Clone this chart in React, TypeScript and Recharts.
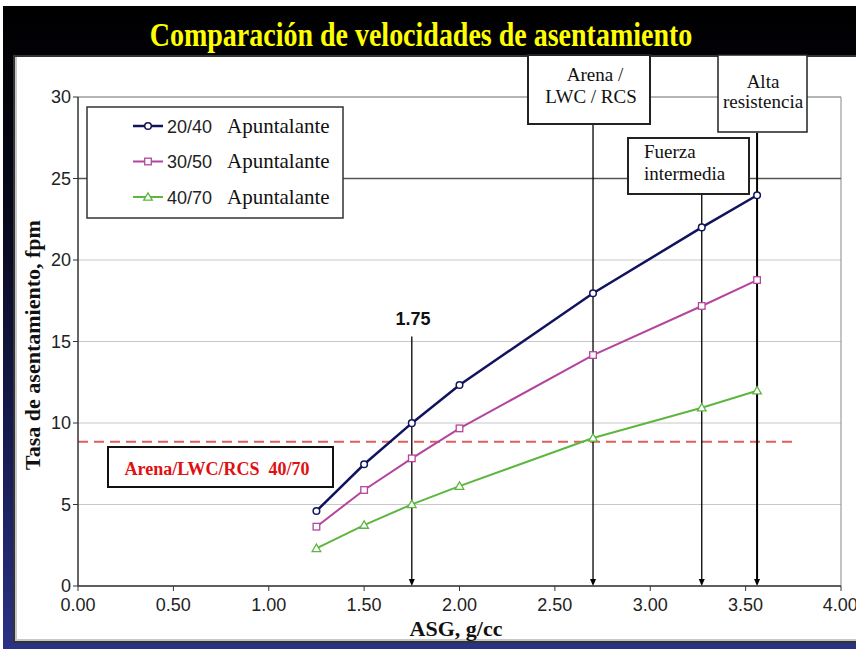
import { CartesianGrid, Line, LineChart, ReferenceLine, XAxis, YAxis } from "recharts";

// ASG (g/cc) of the proppant samples
const ASG = [1.25, 1.5, 1.75, 2.0, 2.7, 3.27, 3.56];

// settling rate, fpm
const RATE_2040 = [4.6, 7.47, 9.99, 12.33, 17.96, 22.0, 23.97];
const RATE_3050 = [3.64, 5.89, 7.83, 9.67, 14.17, 17.18, 18.77];
const RATE_4070 = [2.31, 3.74, 5.01, 6.13, 9.08, 10.94, 11.98];

const X_TICKS = [0, 0.5, 1, 1.5, 2, 2.5, 3, 3.5, 4];
const Y_TICKS = [0, 5, 10, 15, 20, 25, 30];

// dashed reference: sand / LWC / RCS 40/70
const SAND_4070_RATE = 8.85;
const SAND_4070_END = 3.77;

// vertical arrows: ASG value and the rate where the line starts
const ARROW_X = [1.75, 2.7, 3.27, 3.56];
const ARROW_FROM = [15.3, 28.3, 24.0, 27.8];
const ARROW_WIDTH = [1.3, 1.3, 1.3, 2];

const SERIES = [
  { key: "s2040", name: "20/40", color: "#12135f", marker: "circle", width: 2.5 },
  { key: "s3050", name: "30/50", color: "#b3459d", marker: "square", width: 2 },
  { key: "s4070", name: "40/70", color: "#5db640", marker: "triangle", width: 2 },
];

const data = ASG.map((asg, i) => ({
  asg,
  s2040: RATE_2040[i],
  s3050: RATE_3050[i],
  s4070: RATE_4070[i],
}));

const SERIF = "'Liberation Serif', 'Times New Roman', serif";
const SANS = "'Liberation Sans', Arial, sans-serif";

function Marker({ kind, cx, cy, color }: { kind: string; cx: number; cy: number; color: string }) {
  if (kind === "square") {
    return <rect x={cx - 3.3} y={cy - 3.3} width={6.6} height={6.6} fill="#fff" stroke={color} strokeWidth={1.3} />;
  }
  if (kind === "triangle") {
    return (
      <path
        d={`M${cx},${cy - 4.2} L${cx + 4.3},${cy + 3.2} L${cx - 4.3},${cy + 3.2} Z`}
        fill="#fff"
        stroke={color}
        strokeWidth={1.3}
      />
    );
  }
  return <circle cx={cx} cy={cy} r={3.3} fill="#fff" stroke={color} strokeWidth={1.5} />;
}

function ArrowShape(p: any) {
  const { x1, y1, x2, y2, stroke, strokeWidth } = p;
  return (
    <g>
      <line x1={x1} y1={y1} x2={x2} y2={y2 - 5} stroke={stroke} strokeWidth={strokeWidth} />
      <path d={`M${x2 - 3},${y2 - 7} L${x2 + 3},${y2 - 7} L${x2},${y2} Z`} fill={stroke} />
    </g>
  );
}

export default function App() {
  return (
    <div style={{ position: "relative", width: 856, height: 649, overflow: "hidden", background: "#fff" }}>
      <style>{`body{margin:0}`}</style>
      <div
        style={{
          position: "absolute",
          left: 3,
          top: 6,
          width: 860,
          height: 650,
          background: "linear-gradient(180deg, #000 0%, #07081a 30%, #181d55 70%, #2b3388 100%)",
        }}
      />
      <div
        style={{
          position: "absolute",
          left: 13,
          top: 55,
          width: 850,
          height: 584,
          background: "#fff",
          border: "2px solid #333",
          boxShadow: "inset 2px -2px 0 #c8c8c8",
        }}
      />

      <div style={{ position: "absolute", left: 0, top: 0 }}>
        <LineChart width={856} height={649} data={data} margin={{ top: 97, right: 15, bottom: 0, left: 0 }}>
          <CartesianGrid horizontal vertical={false} stroke="#c8c8c8" strokeWidth={1} />
          <XAxis
            type="number"
            dataKey="asg"
            domain={[0, 4]}
            ticks={X_TICKS}
            tickFormatter={(v: number) => v.toFixed(2)}
            height={63}
            tickSize={5}
            tickMargin={7}
            tick={{ fontSize: 18, fill: "#222", fontFamily: SANS }}
            axisLine={{ stroke: "#333", strokeWidth: 1.5 }}
            tickLine={{ stroke: "#333" }}
          />
          <YAxis
            type="number"
            domain={[0, 30]}
            ticks={Y_TICKS}
            width={78}
            tickSize={5}
            tickMargin={2}
            tick={{ fontSize: 18, fill: "#222", fontFamily: SANS }}
            axisLine={{ stroke: "#333", strokeWidth: 1.5 }}
            tickLine={{ stroke: "#333" }}
          />
          <ReferenceLine y={30} stroke="#888" />
          <ReferenceLine x={4} stroke="#888" />
          <ReferenceLine y={25} stroke="#555" strokeWidth={1.3} />
          <ReferenceLine
            segment={[
              { x: 0, y: SAND_4070_RATE },
              { x: SAND_4070_END, y: SAND_4070_RATE },
            ]}
            stroke="#e25c5c"
            strokeWidth={2}
            strokeDasharray="10 6"
          />
          {ARROW_X.map((x, i) => (
            <ReferenceLine
              key={x}
              segment={[
                { x, y: ARROW_FROM[i] },
                { x, y: 0 },
              ]}
              stroke="#000"
              strokeWidth={ARROW_WIDTH[i]}
              shape={ArrowShape}
            />
          ))}
          {SERIES.map((s) => (
            <Line
              key={s.key}
              type="linear"
              dataKey={s.key}
              stroke={s.color}
              strokeWidth={s.width}
              isAnimationActive={false}
              activeDot={false}
              dot={(p: any) => <Marker key={p.index} kind={s.marker} cx={p.cx} cy={p.cy} color={s.color} />}
            />
          ))}
        </LineChart>
      </div>

      <svg width={856} height={649} style={{ position: "absolute", left: 0, top: 0 }}>
        <g transform="translate(421,46) scale(1,1.2)">
          <text x={0} y={0} textAnchor="middle" fontFamily={SERIF} fontWeight="bold" fontSize={28} fill="#ffff00">
            Comparación de velocidades de asentamiento
          </text>
        </g>

        <text
          transform="translate(40,345) rotate(-90)"
          textAnchor="middle"
          fontFamily={SERIF}
          fontWeight="bold"
          fontSize={22}
          fill="#111"
        >
          Tasa de asentamiento, fpm
        </text>
        <text x={456} y={636} textAnchor="middle" fontFamily={SERIF} fontWeight="bold" fontSize={22} fill="#111">
          ASG, g/cc
        </text>

        {/* legend */}
        <rect x={87} y={107} width={256} height={111} fill="#fff" stroke="#333" strokeWidth={1.5} />
        {SERIES.map((s, i) => {
          const cy = 126 + i * 35.5;
          return (
            <g key={s.key}>
              <line x1={133} y1={cy} x2={163} y2={cy} stroke={s.color} strokeWidth={s.width} />
              <Marker kind={s.marker} cx={148} cy={cy} color={s.color} />
              <text x={167} y={cy + 6.5} fontFamily={SANS} fontSize={18} fill="#222">
                {s.name}
              </text>
              <text x={227} y={cy + 6.5} fontFamily={SERIF} fontSize={21} fill="#111">
                Apuntalante
              </text>
            </g>
          );
        })}

        {/* annotation boxes */}
        <rect x={528} y={55} width={122} height={69} fill="#fff" stroke="#222" strokeWidth={2} />
        <text x={595} y={81} textAnchor="middle" fontFamily={SERIF} fontSize={19} fill="#111">
          Arena /
        </text>
        <text x={591} y={103} textAnchor="middle" fontFamily={SERIF} fontSize={19} fill="#111">
          LWC / RCS
        </text>

        <rect x={718} y={55} width={89} height={77} fill="#fff" stroke="#222" strokeWidth={1.5} />
        <text x={763} y={88} textAnchor="middle" fontFamily={SERIF} fontSize={19} fill="#111">
          Alta
        </text>
        <text x={763} y={108} textAnchor="middle" fontFamily={SERIF} fontSize={19} fill="#111">
          resistencia
        </text>

        <rect x={628} y={138} width={121} height={56} fill="#fff" stroke="#222" strokeWidth={2} />
        <text x={644} y={158} fontFamily={SERIF} fontSize={19} fill="#111">
          Fuerza
        </text>
        <text x={644} y={180} fontFamily={SERIF} fontSize={19} fill="#111">
          intermedia
        </text>

        <text x={413} y={325} textAnchor="middle" fontFamily={SANS} fontWeight="bold" fontSize={18} fill="#111">
          1.75
        </text>

        <rect x={108} y={447} width={225} height={40} fill="#fff" stroke="#111" strokeWidth={2} />
        <text
          x={217}
          y={475}
          textAnchor="middle"
          fontFamily={SERIF}
          fontWeight="bold"
          fontSize={18}
          fill="#e01010"
          style={{ whiteSpace: "pre" }}
        >
          {"Arena/LWC/RCS  40/70"}
        </text>
      </svg>
    </div>
  );
}
